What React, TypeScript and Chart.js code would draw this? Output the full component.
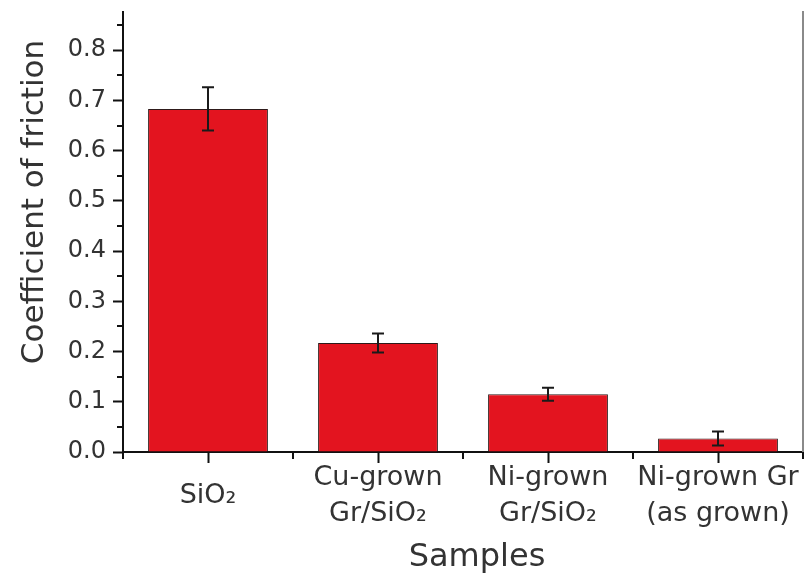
import { useEffect, useRef } from 'react';
import { Chart, registerables } from 'chart.js';

Chart.register(...registerables);

// ---- data ----
const categories: (string | string[])[] = [
  'SiO₂',
  ['Cu-grown', 'Gr/SiO₂'],
  ['Ni-grown', 'Gr/SiO₂'],
  ['Ni-grown Gr', '(as grown)'],
];
const frictionMean = [0.683, 0.217, 0.115, 0.027];
const frictionError = [0.043, 0.019, 0.013, 0.014];
const yMajorTicks = [0, 0.1, 0.2, 0.3, 0.4, 0.5, 0.6, 0.7, 0.8];
const yMinorTicks = [0.05, 0.15, 0.25, 0.35, 0.45, 0.55, 0.65, 0.75, 0.85];
const yAxisMin = 0;
const yAxisMax = 0.876;
const xAxisTitle = 'Samples';
const yAxisTitle = 'Coefficient of friction';

const FONT = '"DejaVu Sans", "Liberation Sans", Arial, sans-serif';
const TEXT = '#333333';
const AXIS = '#111111';

const errorBarPlugin = {
  id: 'errorBars',
  afterDatasetsDraw(chart: any) {
    const { ctx } = chart;
    const x = chart.scales.x;
    const y = chart.scales.y;
    ctx.save();
    ctx.strokeStyle = '#1a1a1a';
    ctx.lineWidth = 2;
    frictionMean.forEach((m, i) => {
      const e = frictionError[i];
      const px = Math.round(x.getPixelForValue(i));
      const top = y.getPixelForValue(m + e);
      const bot = y.getPixelForValue(m - e);
      ctx.beginPath();
      ctx.moveTo(px, top);
      ctx.lineTo(px, bot);
      ctx.moveTo(px - 6, top);
      ctx.lineTo(px + 6, top);
      ctx.moveTo(px - 6, bot);
      ctx.lineTo(px + 6, bot);
      ctx.stroke();
    });
    ctx.restore();
  },
};

const minorTicksPlugin = {
  id: 'minorTicks',
  afterDraw(chart: any) {
    const { ctx, chartArea } = chart;
    const x = chart.scales.x;
    const y = chart.scales.y;
    ctx.save();
    ctx.strokeStyle = AXIS;
    ctx.lineWidth = 2;
    ctx.beginPath();
    yMinorTicks.forEach((v) => {
      const py = Math.round(y.getPixelForValue(v));
      ctx.moveTo(chartArea.left - 6, py);
      ctx.lineTo(chartArea.left, py);
    });
    for (let i = 0; i <= categories.length; i++) {
      const px = Math.round(x.getPixelForValue(i - 0.5));
      ctx.moveTo(px, chartArea.bottom);
      ctx.lineTo(px, chartArea.bottom + 7);
    }
    ctx.stroke();
    ctx.restore();
  },
};

const axisTitlesPlugin = {
  id: 'axisTitles',
  afterDraw(chart: any) {
    const { ctx, chartArea } = chart;
    ctx.save();
    ctx.fillStyle = TEXT;
    ctx.textAlign = 'center';
    ctx.textBaseline = 'alphabetic';
    ctx.font = `31px ${FONT}`;
    ctx.save();
    ctx.translate(43, (chartArea.top + chartArea.bottom) / 2 - 30);
    ctx.rotate(-Math.PI / 2);
    ctx.fillText(yAxisTitle, 0, 0);
    ctx.restore();
    ctx.font = `32px ${FONT}`;
    ctx.fillText(xAxisTitle, (chartArea.left + chartArea.right) / 2 + 14, 566);
    ctx.restore();
  },
};

export default function App() {
  const canvasRef = useRef<HTMLCanvasElement | null>(null);

  useEffect(() => {
    document.body.style.margin = '0';
    const canvas = canvasRef.current;
    if (!canvas) return;
    const chart = new Chart(canvas, {
      type: 'bar',
      data: {
        labels: categories as any,
        datasets: [
          {
            label: yAxisTitle,
            data: frictionMean,
            backgroundColor: '#e3141f',
            borderColor: '#2e1a1a',
            borderWidth: 1,
            barPercentage: 0.705,
            categoryPercentage: 1,
            yAxisID: 'y',
          },
        ],
      },
      options: {
        responsive: false,
        animation: false,
        devicePixelRatio: 1,
        layout: { padding: { top: 12, right: 1, left: 0, bottom: 0 } },
        plugins: {
          legend: { display: false },
          tooltip: { enabled: false },
          title: { display: false },
        },
        scales: {
          x: {
            type: 'category',
            offset: true,
            grid: {
              display: true,
              drawOnChartArea: false,
              offset: false,
              tickLength: 11,
              tickWidth: 2,
              tickColor: AXIS,
            },
            border: { display: true, color: AXIS, width: 2 },
            ticks: {
              color: TEXT,
              font: { family: FONT, size: 27, lineHeight: 1.333 },
              padding: 15,
              maxRotation: 0,
              minRotation: 0,
              autoSkip: false,
              crossAlign: 'center',
            },
            afterFit: (s: any) => {
              s.height = 124;
              s.paddingLeft = 0;
              s.paddingRight = 0;
            },
          },
          y: {
            type: 'linear',
            position: 'left',
            min: yAxisMin,
            max: yAxisMax,
            grid: {
              display: true,
              drawOnChartArea: false,
              tickLength: 10,
              tickWidth: 2,
              tickColor: AXIS,
            },
            border: { display: true, color: AXIS, width: 2 },
            ticks: {
              color: TEXT,
              font: { family: FONT, size: 24 },
              padding: 7,
              callback: (v: any) => Number(v).toFixed(1),
            },
            afterBuildTicks: (s: any) => {
              s.ticks = yMajorTicks.map((v) => ({ value: v }));
            },
            afterFit: (s: any) => {
              s.width = 123;
              s.paddingTop = 0;
              s.paddingBottom = 0;
            },
          },
          y2: {
            type: 'linear',
            position: 'right',
            min: yAxisMin,
            max: yAxisMax,
            grid: { display: false, drawOnChartArea: false },
            border: { display: true, color: '#8a8a8a', width: 2 },
            ticks: { display: false },
            afterFit: (s: any) => {
              s.width = 1;
              s.paddingTop = 0;
              s.paddingBottom = 0;
            },
          },
        },
      },
      plugins: [errorBarPlugin, minorTicksPlugin, axisTitlesPlugin],
    });
    return () => chart.destroy();
  }, []);

  return (
    <div style={{ position: 'absolute', left: 0, top: 0, width: 805, height: 576, background: '#ffffff' }}>
      <canvas ref={canvasRef} width={805} height={576} style={{ display: 'block' }} />
    </div>
  );
}
